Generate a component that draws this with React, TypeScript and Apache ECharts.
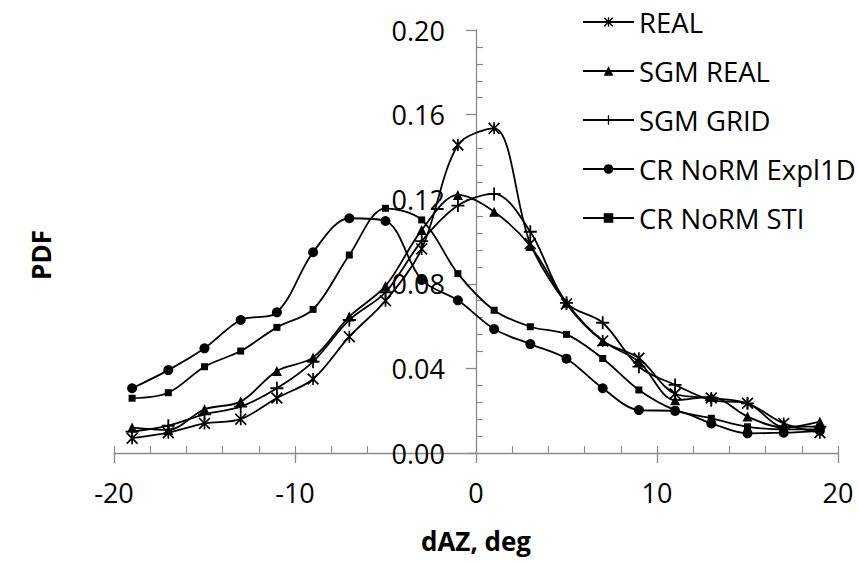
import React, { useEffect, useRef } from "react";
import * as echarts from "echarts";

// Azimuth error (deg) at the bin centres
const dAzDeg = [-19, -17, -15, -13, -11, -9, -7, -5, -3, -1, 1, 3, 5, 7, 9, 11, 13, 15, 17, 19];

// Probability density for each model
const realPdf = [0.007, 0.0096, 0.014, 0.016, 0.026, 0.035, 0.055, 0.072, 0.0965, 0.1456, 0.1535, 0.099, 0.0705, 0.053, 0.0448, 0.028, 0.026, 0.0235, 0.014, 0.0096];
const sgmRealPdf = [0.012, 0.0109, 0.0207, 0.0243, 0.0388, 0.0452, 0.0645, 0.079, 0.1054, 0.122, 0.1141, 0.0979, 0.071, 0.053, 0.0432, 0.025, 0.0265, 0.0172, 0.012, 0.0148];
const sgmGridPdf = [0.0101, 0.0129, 0.0183, 0.0219, 0.0306, 0.0432, 0.0629, 0.076, 0.1002, 0.117, 0.1225, 0.1046, 0.071, 0.0616, 0.0408, 0.0322, 0.025, 0.0235, 0.0125, 0.0125];
const crExpl1dPdf = [0.0306, 0.0392, 0.0495, 0.0629, 0.0665, 0.0949, 0.111, 0.1097, 0.0818, 0.0722, 0.0586, 0.0515, 0.0446, 0.0306, 0.0203, 0.0199, 0.014, 0.0093, 0.0096, 0.0105];
const crStiPdf = [0.0259, 0.0285, 0.0408, 0.0482, 0.0594, 0.0679, 0.0936, 0.1157, 0.1102, 0.0848, 0.0675, 0.0597, 0.0561, 0.0447, 0.0298, 0.0203, 0.0164, 0.0124, 0.0112, 0.0112];

const seriesNames = ["REAL", "SGM REAL", "SGM GRID", "CR NoRM Expl1D", "CR NoRM STI"];

// Axis settings
const xMin = -20;
const xMax = 20;
const xStep = 10;
const xMinorStep = 2;
const yMin = 0;
const yMax = 0.2;
const yStep = 0.04;

// Plot box in pixels
const GRID_LEFT = 114;
const GRID_RIGHT = 21;
const CHART_W = 859;
// The value axis is drawn where dAZ = 0
const yAxisShift = -((CHART_W - GRID_LEFT - GRID_RIGHT) * (0 - xMin)) / (xMax - xMin);

// Stroked marker shapes built from thin filled bars
const starSymbol =
  "path://M43,0H57V100H43Z M0,10L10,0L100,90L90,100Z M90,0L100,10L10,100L0,90Z";
const plusSymbol = "path://M43,0H57V43H100V57H57V100H43V57H0V43H43Z";

const FONT = "'Open Sans', 'Noto Sans', sans-serif";
const AXIS_GREY = "#8a8a8a";

export default function App() {
  const ref = useRef<HTMLDivElement>(null);

  useEffect(() => {
    if (!ref.current) return;
    const chart = echarts.init(ref.current, null, { renderer: "svg" });

    const toPoints = (vals: number[]) => dAzDeg.map((x, i) => [x, vals[i]]);

    const makeSeries = (name: string, vals: number[], symbol: string, size: number) => ({
      name,
      type: "line",
      xAxisIndex: 0,
      yAxisIndex: 0,
      data: toPoints(vals),
      smooth: 0.33,
      symbol,
      symbolSize: size,
      showSymbol: true,
      lineStyle: { color: "#000", width: 1.8 },
      itemStyle: { color: "#000" },
      emphasis: { disabled: true },
      z: 3,
    });

    chart.setOption({
      animation: false,
      backgroundColor: "#fff",
      textStyle: { fontFamily: FONT },
      grid: { left: GRID_LEFT, right: GRID_RIGHT, top: 30, bottom: 110, containLabel: false },
      legend: {
        orient: "vertical",
        left: 582,
        top: 8,
        padding: 0,
        itemWidth: 51,
        itemHeight: 12,
        itemGap: 21,
        selectedMode: false,
        data: seriesNames,
        textStyle: { fontFamily: FONT, fontSize: 27.5, color: "#000" },
      },
      xAxis: [
        {
          type: "value",
          min: xMin,
          max: xMax,
          interval: xStep,
          position: "bottom",
          axisLine: { onZero: false, lineStyle: { color: AXIS_GREY, width: 1.3 } },
          axisTick: { show: true, inside: false, length: 10, lineStyle: { color: AXIS_GREY, width: 1.3 } },
          splitLine: { show: false },
          axisLabel: { margin: 26, fontSize: 27, color: "#000", fontFamily: FONT },
        },
        {
          // inner tick marks every 2 deg
          type: "value",
          min: xMin,
          max: xMax,
          interval: xMinorStep,
          position: "bottom",
          axisLine: { show: false, onZero: false },
          axisTick: { show: true, inside: true, length: 7, lineStyle: { color: AXIS_GREY, width: 1.1 } },
          splitLine: { show: false },
          axisLabel: { show: false },
        },
      ],
      yAxis: [
        {
          type: "value",
          min: yMin,
          max: yMax,
          interval: yStep,
          position: "left",
          offset: yAxisShift,
          axisLine: { show: true, onZero: false, lineStyle: { color: AXIS_GREY, width: 1.3 } },
          axisTick: { show: true, inside: false, length: 10, lineStyle: { color: AXIS_GREY, width: 1.3 } },
          splitLine: { show: false },
          axisLabel: {
            margin: 31,
            fontSize: 27,
            color: "#000",
            fontFamily: FONT,
            formatter: (v: number) => v.toFixed(2),
          },
        },
        {
          // inner minor tick marks
          type: "value",
          min: yMin,
          max: yMax,
          interval: yStep,
          position: "left",
          offset: yAxisShift,
          axisLine: { show: false, onZero: false },
          axisTick: { show: false, inside: true, length: 7 },
          minorTick: { show: true, splitNumber: 5, length: 7, lineStyle: { color: AXIS_GREY, width: 1.1 } },
          splitLine: { show: false },
          axisLabel: { show: false },
        },
      ],
      graphic: [
        {
          type: "text",
          x: 476,
          y: 541,
          style: {
            text: "dAZ, deg",
            fill: "#000",
            font: `bold 26px ${FONT}`,
            textAlign: "center",
            textVerticalAlign: "middle",
          },
        },
        {
          type: "text",
          x: 41,
          y: 255,
          rotation: Math.PI / 2,
          style: {
            text: "PDF",
            fill: "#000",
            font: `bold 26px ${FONT}`,
            textAlign: "center",
            textVerticalAlign: "middle",
          },
        },
      ],
      series: [
        makeSeries(seriesNames[0], realPdf, starSymbol, 12),
        makeSeries(seriesNames[1], sgmRealPdf, "triangle", 10),
        makeSeries(seriesNames[2], sgmGridPdf, plusSymbol, 13),
        makeSeries(seriesNames[3], crExpl1dPdf, "circle", 10),
        makeSeries(seriesNames[4], crStiPdf, "rect", 7),
      ],
    });

    return () => chart.dispose();
  }, []);

  return (
    <div
      ref={ref}
      style={{ position: "absolute", left: 0, top: 0, width: 859, height: 563, background: "#fff" }}
    />
  );
}
